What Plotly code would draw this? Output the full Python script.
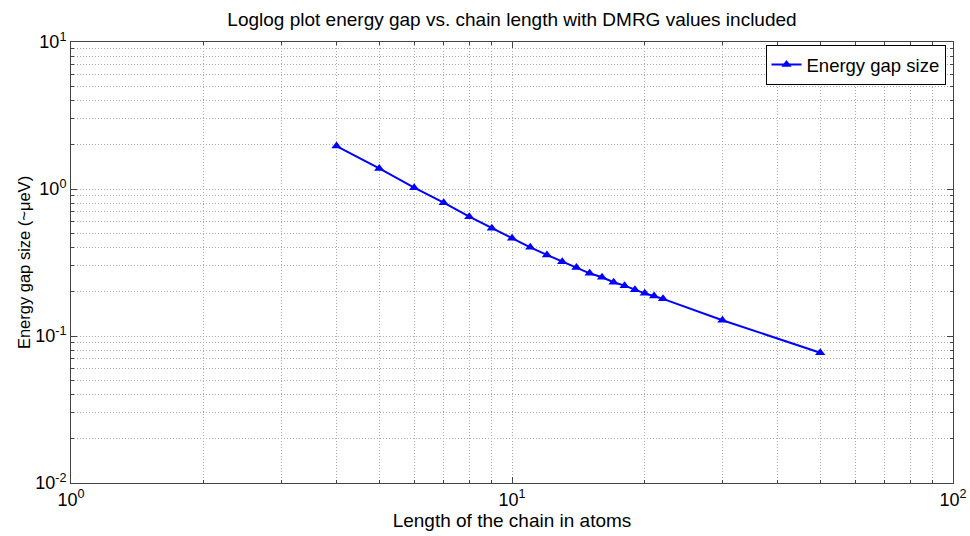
import plotly.graph_objects as go

chain_length = [4, 5, 6, 7, 8, 9, 10, 11, 12, 13, 14, 15, 16, 17, 18, 19, 20, 21, 22, 30, 50]
energy_gap = [1.96, 1.38, 1.02, 0.807, 0.648, 0.540, 0.462, 0.401, 0.356, 0.320, 0.292,
              0.267, 0.251, 0.232, 0.220, 0.206, 0.195, 0.187, 0.179, 0.128, 0.077]

x_major = [1, 10, 100]
x_labels = ["10<sup>0</sup>", "10<sup>1</sup>", "10<sup>2</sup>"]
y_major = [0.01, 0.1, 1, 10]
y_labels = ["10<sup>-2</sup>", "10<sup>-1</sup>", "10<sup>0</sup>", "10<sup>1</sup>"]

x_minor = [m * 10 ** e for e in range(0, 2) for m in range(2, 10)]
y_minor = [m * 10 ** e for e in range(-2, 1) for m in range(2, 10)]

FONT = "Liberation Sans, Arial, sans-serif"
GRID = "#ababab"
AXIS = "#444444"
DOTS = "1px,2px"

fig = go.Figure()
fig.add_trace(go.Scatter(
    x=chain_length, y=energy_gap, mode="lines+markers", name="Energy gap size",
    line=dict(color="#0000ff", width=2),
    marker=dict(symbol="triangle-up", size=9, color="#0000ff"),
))

axis_common = dict(
    showline=True, linecolor=AXIS, linewidth=1, mirror="allticks",
    ticks="inside", ticklen=6, tickcolor=AXIS,
    showgrid=True, gridcolor=GRID, griddash=DOTS, gridwidth=1,
    tickfont=dict(family=FONT, size=18, color="black"),
    zeroline=False, automargin=False,
)

fig.update_xaxes(
    type="log", range=[0, 2], tickmode="array", tickvals=x_major, ticktext=x_labels,
    minor=dict(tickmode="array", tickvals=x_minor, ticks="inside", ticklen=3, tickcolor=AXIS,
               showgrid=True, gridcolor=GRID, griddash=DOTS, gridwidth=1),
    title=dict(text="Length of the chain in atoms", font=dict(family=FONT, size=19, color="black"), standoff=1),
    **axis_common,
)
fig.update_yaxes(
    type="log", range=[-2, 1], tickmode="array", tickvals=y_major, ticktext=y_labels,
    minor=dict(tickmode="array", tickvals=y_minor, ticks="inside", ticklen=3, tickcolor=AXIS,
               showgrid=True, gridcolor=GRID, griddash=DOTS, gridwidth=1),
    title=dict(text="Energy gap size (~\u03bceV)", font=dict(family=FONT, size=16.5, color="black"), standoff=0),
    **axis_common,
)

fig.update_layout(
    width=970, height=536,
    margin=dict(l=71, r=17, t=42, b=53),
    paper_bgcolor="white", plot_bgcolor="white",
    title=dict(text="Loglog plot energy gap vs. chain length with DMRG values included",
               font=dict(family=FONT, size=19, color="black"),
               x=0.5, xanchor="center", xref="paper", y=0.963, yanchor="middle"),
    showlegend=True,
    legend=dict(x=0.9915, y=0.993, xanchor="right", yanchor="top",
                bgcolor="white", bordercolor="black", borderwidth=1,
                font=dict(family=FONT, size=18.5, color="black"),
                itemwidth=30, tracegroupgap=0),
)

fig.write_html("out.html")
